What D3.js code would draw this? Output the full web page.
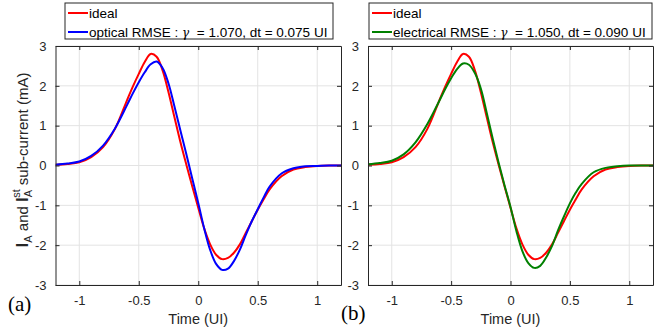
<!DOCTYPE html>
<html>
<head>
<meta charset="utf-8">
<script src="https://cdn.jsdelivr.net/npm/d3@7"></script>
<style>
  body { margin: 0; background: #fff; }
  text { font-family: "Liberation Sans", Arial, sans-serif; }
</style>
</head>
<body>
<div id="chart"></div>
<script>
// sample times (UI)
const time = [-1.2, -1.1, -1.0, -0.9, -0.8, -0.7, -0.6, -0.55, -0.5, -0.45, -0.4, -0.35, -0.3, -0.25, -0.2, -0.15, -0.1, -0.05,
  0, 0.05, 0.1, 0.15, 0.2, 0.25, 0.3, 0.35, 0.4, 0.45, 0.5, 0.55, 0.6, 0.7, 0.8, 0.9, 1.0, 1.1, 1.2]

// ideal sub-current (mA)
const ideal = [0.02, 0.04, 0.08, 0.21, 0.46, 0.92, 1.63, 1.98, 2.30, 2.60, 2.80, 2.73, 2.39, 1.84, 1.21, 0.59, 0.02, -0.53,
  -1.06, -1.58, -1.98, -2.24, -2.35, -2.32, -2.19, -1.98, -1.69, -1.40, -1.11, -0.85, -0.60, -0.27, -0.10, -0.04, -0.01, 0, 0]

// optical fit
const optical = [0.02, 0.05, 0.10, 0.24, 0.50, 0.93, 1.51, 1.81, 2.09, 2.34, 2.54, 2.61, 2.45, 2.06, 1.48, 0.88, 0.28, -0.33,
  -0.94, -1.58, -2.12, -2.47, -2.62, -2.59, -2.40, -2.11, -1.74, -1.40, -1.10, -0.80, -0.53, -0.20, -0.07, -0.02, -0.01, 0, 0]

// electrical fit
const electrical = [0.03, 0.06, 0.12, 0.28, 0.58, 1.04, 1.62, 1.92, 2.19, 2.42, 2.56, 2.53, 2.32, 1.93, 1.32, 0.68, 0.07, -0.50,
  -1.04, -1.65, -2.15, -2.45, -2.57, -2.52, -2.31, -2.02, -1.63, -1.28, -0.95, -0.68, -0.46, -0.17, -0.06, -0.02, 0, 0, 0]

const xTicks = [-1, -0.5, 0, 0.5, 1]
const yTicks = [-3, -2, -1, 0, 1, 2, 3]

const svg = d3.select('#chart')
  .append('svg')
  .attr('width', 672)
  .attr('height', 335)

function panel(opts) {
  const x = d3.scaleLinear().domain([-1.2, 1.2]).range([opts.left, opts.right])
  const y = d3.scaleLinear().domain([-3, 3]).range([285, 46])
  const g = svg.append('g')

  // grid
  g.selectAll('.gx').data(xTicks).enter().append('line')
    .attr('x1', d => x(d)).attr('x2', d => x(d))
    .attr('y1', y(-3)).attr('y2', y(3))
    .attr('stroke', '#e3e3e3').attr('stroke-width', 1)
  g.selectAll('.gy').data(yTicks).enter().append('line')
    .attr('x1', x(-1.2)).attr('x2', x(1.2))
    .attr('y1', d => y(d)).attr('y2', d => y(d))
    .attr('stroke', '#e3e3e3').attr('stroke-width', 1)

  // curves
  const clipId = 'clip' + opts.name
  svg.append('clipPath').attr('id', clipId)
    .append('rect')
    .attr('x', x(-1.2)).attr('y', y(3))
    .attr('width', x(1.2) - x(-1.2)).attr('height', y(-3) - y(3))

  const line = d3.line()
    .x((d, i) => x(time[i]))
    .y(d => y(d))
    .curve(d3.curveCatmullRom)

  g.append('path').datum(ideal)
    .attr('d', line).attr('fill', 'none')
    .attr('stroke', '#ff0000').attr('stroke-width', 2)
    .attr('clip-path', `url(#${clipId})`)
  g.append('path').datum(opts.values)
    .attr('d', line).attr('fill', 'none')
    .attr('stroke', opts.color).attr('stroke-width', 2)
    .attr('clip-path', `url(#${clipId})`)

  // axes (matlab style: ticks inside, on all sides)
  const fmt = d => String(d)
  const axB = g.append('g').attr('transform', `translate(0,${y(-3)})`)
    .call(d3.axisBottom(x).tickValues(xTicks).tickFormat(fmt).tickSizeInner(-4).tickSizeOuter(0).tickPadding(11))
  const axT = g.append('g').attr('transform', `translate(0,${y(3)})`)
    .call(d3.axisTop(x).tickValues(xTicks).tickSizeInner(-4).tickSizeOuter(0).tickFormat(''))
  const axL = g.append('g').attr('transform', `translate(${x(-1.2)},0)`)
    .call(d3.axisLeft(y).tickValues(yTicks).tickFormat(fmt).tickSizeInner(-4).tickSizeOuter(0).tickPadding(9))
  const axR = g.append('g').attr('transform', `translate(${x(1.2)},0)`)
    .call(d3.axisRight(y).tickValues(yTicks).tickSizeInner(-4).tickSizeOuter(0).tickFormat(''))

  ;[axB, axT, axL, axR].forEach(a => {
    a.select('.domain').attr('stroke', '#262626').attr('stroke-width', 1)
    a.selectAll('.tick line').attr('stroke', '#262626')
    a.selectAll('.tick text')
      .attr('fill', '#262626')
      .style('font-size', '13px')
      .style('font-family', '"Liberation Sans", Arial, sans-serif')
  })

  // x label
  g.append('text')
    .attr('x', x(0)).attr('y', 324)
    .attr('text-anchor', 'middle')
    .attr('fill', '#262626')
    .style('font-size', '14.5px')
    .text('Time (UI)')

  // panel letter
  g.append('text')
    .attr('x', opts.letterX).attr('y', opts.letterY)
    .style('font-family', '"Liberation Serif", "Times New Roman", serif')
    .style('font-size', '21px')
    .attr('fill', '#000')
    .text(opts.letter)

  // legend
  const lg = g.append('g')
  lg.append('rect')
    .attr('x', opts.legX).attr('y', 3)
    .attr('width', opts.legW).attr('height', 36)
    .attr('fill', '#fff').attr('stroke', '#262626').attr('stroke-width', 1)

  const rows = [
    { color: '#ff0000', y: 13, parts: ['ideal'] },
    { color: opts.color, y: 32, parts: [opts.label, opts.fit] },
  ]
  rows.forEach(r => {
    lg.append('line')
      .attr('x1', opts.legX + 3).attr('x2', opts.legX + 23)
      .attr('y1', r.y).attr('y2', r.y)
      .attr('stroke', r.color).attr('stroke-width', 2)
    const t = lg.append('text')
      .attr('x', opts.legX + 24).attr('y', r.y + 5)
      .attr('fill', '#000')
      .style('font-size', '13.5px')
      .style('white-space', 'pre')
    t.append('tspan').text(r.parts[0])
    if (r.parts.length > 1) {
      t.append('tspan')
        .style('font-family', '"DejaVu Serif", serif')
        .style('font-style', 'italic')
        .style('font-size', '12px')
        .text(' γ')
      t.append('tspan').text('  ' + r.parts[1])
    }
  })
}

panel({
  name: 'a', left: 55.5, right: 341, values: optical, color: '#0000ff',
  label: 'optical RMSE :', fit: '= 1.070, dt = 0.075 UI',
  legX: 65, legW: 268, letter: '(a)', letterX: 8, letterY: 311
})

panel({
  name: 'b', left: 368, right: 653, values: electrical, color: '#008000',
  label: 'electrical RMSE :', fit: '= 1.050, dt = 0.090 UI',
  legX: 369, legW: 283, letter: '(b)', letterX: 341, letterY: 320
})

// y label
const yl = svg.append('text')
  .attr('transform', 'translate(28,160) rotate(-90)')
  .attr('text-anchor', 'middle')
  .attr('fill', '#262626')
  .style('font-size', '15px')
yl.append('tspan').style('font-weight', 'bold').style('font-size', '17px').text('I')
yl.append('tspan').attr('dy', 4).style('font-size', '11px').text('A')
yl.append('tspan').attr('dy', -4).text(' and ')
yl.append('tspan').style('font-weight', 'bold').style('font-size', '17px').text('I')
yl.append('tspan').attr('dy', 4).style('font-size', '11px').text('A')
yl.append('tspan').attr('dx', -8).attr('dy', -12).style('font-size', '11px').text('st')
yl.append('tspan').attr('dy', 8).text(' sub-current (mA)')
</script>
</body>
</html>
